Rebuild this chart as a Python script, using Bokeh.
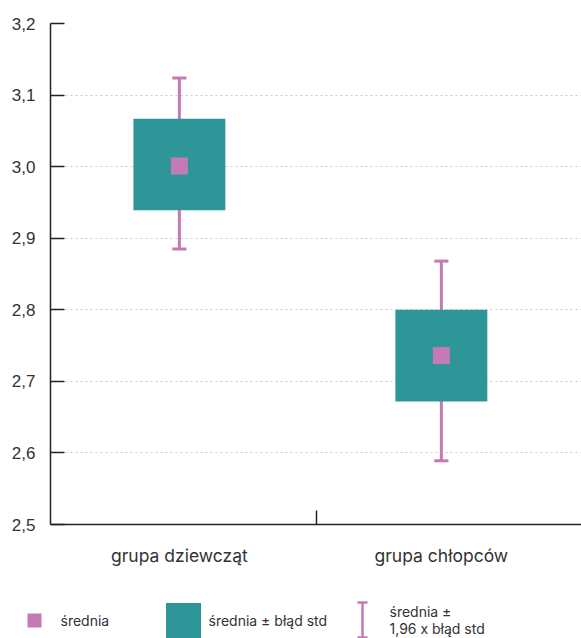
from bokeh.plotting import figure
from bokeh.layouts import column
from bokeh.models import Range1d, FixedTicker
from bokeh.core.properties import value
from bokeh.embed import file_html
from bokeh.resources import INLINE

# ---- data ----
categories = ["grupa dziewcząt", "grupa chłopców"]
x_pos = [0.5, 1.5]
means = [3.001, 2.736]
se_low = [2.939, 2.672]
se_high = [3.067, 2.800]
ci_low = [2.885, 2.589]
ci_high = [3.124, 2.868]
y_ticks = [2.5, 2.6, 2.7, 2.8, 2.9, 3.0, 3.1, 3.2]
y_tick_labels = ["2,5", "2,6", "2,7", "2,8", "2,9", "3,0", "3,1", "3,2"]
legend_labels = ["średnia", "średnia ± błąd std", "średnia ±", "1,96 x błąd std"]

TEAL = "#2e9698"
PINK = "#c47ab4"
TXT = "#333333"
FONT = "Inter"
NUMFONT = "Liberation Sans"

W = 581
x0, x1 = 0.008, 2.035
p = figure(width=W, height=570, output_backend="svg", toolbar_location=None,
           x_range=Range1d(x0, x1), y_range=Range1d(2.5, 3.2),
           min_border_left=50, min_border_right=0, min_border_top=23, min_border_bottom=46)
p.outline_line_color = None
p.background_fill_color = "white"

# error bars (stems + caps), then boxes, then means
cap_half = 0.027
p.segment(x0=x_pos, y0=ci_low, x1=x_pos, y1=ci_high, line_color=PINK, line_width=3)
p.segment(x0=[x - cap_half for x in x_pos], y0=ci_high, x1=[x + cap_half for x in x_pos], y1=ci_high,
          line_color=PINK, line_width=3)
p.segment(x0=[x - cap_half for x in x_pos], y0=ci_low, x1=[x + cap_half for x in x_pos], y1=ci_low,
          line_color=PINK, line_width=3)
p.vbar(x=x_pos, width=0.351, bottom=se_low, top=se_high, fill_color=TEAL, line_color=None)
p.scatter(x=x_pos, y=means, marker="square", size=17, fill_color=PINK, line_color=None)

# y axis
p.yaxis.ticker = FixedTicker(ticks=y_ticks)
p.yaxis.major_label_overrides = {t: l for t, l in zip(y_ticks, y_tick_labels)}
p.yaxis.major_tick_in = 14
p.yaxis.major_tick_out = 0
p.yaxis.minor_tick_line_color = None
p.yaxis.major_tick_line_width = 1.5
p.yaxis.major_tick_line_color = "#222222"
p.yaxis.axis_line_color = "#222222"
p.yaxis.axis_line_width = 1.5
p.yaxis.major_label_standoff = 15
p.yaxis.major_label_text_font = NUMFONT
p.yaxis.major_label_text_font_size = "17px"
p.yaxis.major_label_text_color = TXT

# x axis
p.xaxis.ticker = FixedTicker(ticks=x_pos, minor_ticks=[(x0 + x1) / 2])
p.xaxis.major_label_overrides = {t: c for t, c in zip(x_pos, categories)}
p.xaxis.major_tick_line_color = None
p.xaxis.major_tick_in = 0
p.xaxis.major_tick_out = 0
p.xaxis.minor_tick_in = 14
p.xaxis.minor_tick_out = 0
p.xaxis.minor_tick_line_color = "#222222"
p.xaxis.minor_tick_line_width = 1.5
p.xaxis.axis_line_color = "#222222"
p.xaxis.axis_line_width = 1.5
p.xaxis.major_label_standoff = 20
p.xaxis.major_label_text_font = FONT
p.xaxis.major_label_text_font_size = "17.5px"
p.xaxis.major_label_text_color = TXT

p.xgrid.grid_line_color = None
p.ygrid.ticker = FixedTicker(ticks=y_ticks)
p.ygrid.grid_line_color = "#c8c8c8"
p.ygrid.grid_line_dash = "2 3"
p.ygrid.grid_line_width = 1

# ---- legend strip (pixel coordinates, y downward) ----
LH = 68
leg = figure(width=W, height=LH, output_backend="svg", toolbar_location=None,
             x_range=Range1d(0, W), y_range=Range1d(LH, 0),
             min_border=0, min_border_left=0, min_border_right=0,
             min_border_top=0, min_border_bottom=0)
leg.frame_align = False
leg.axis.visible = False
leg.grid.visible = False
leg.outline_line_color = None

ly = 50
leg.scatter(x=[34], y=[ly], marker="square", size=14, fill_color=PINK, line_color=None)
leg.scatter(x=[183], y=[ly], marker="square", size=35, fill_color=TEAL, line_color=None)
leg.segment(x0=[362], y0=[ly - 18], x1=[362], y1=[ly + 17], line_color=PINK, line_width=2.5)
leg.segment(x0=[357, 357], y0=[ly - 18, ly + 17], x1=[367, 367], y1=[ly - 18, ly + 17],
            line_color=PINK, line_width=2.5)
leg.text(x=[60, 208, 389, 389], y=[ly, ly, ly - 9, ly + 8], text=legend_labels,
         text_font=value(FONT), text_font_size="14px", text_color=TXT,
         text_baseline="middle", text_align="left")

layout = column(p, leg, spacing=0)
open("out.html", "w").write(file_html(layout, INLINE))
